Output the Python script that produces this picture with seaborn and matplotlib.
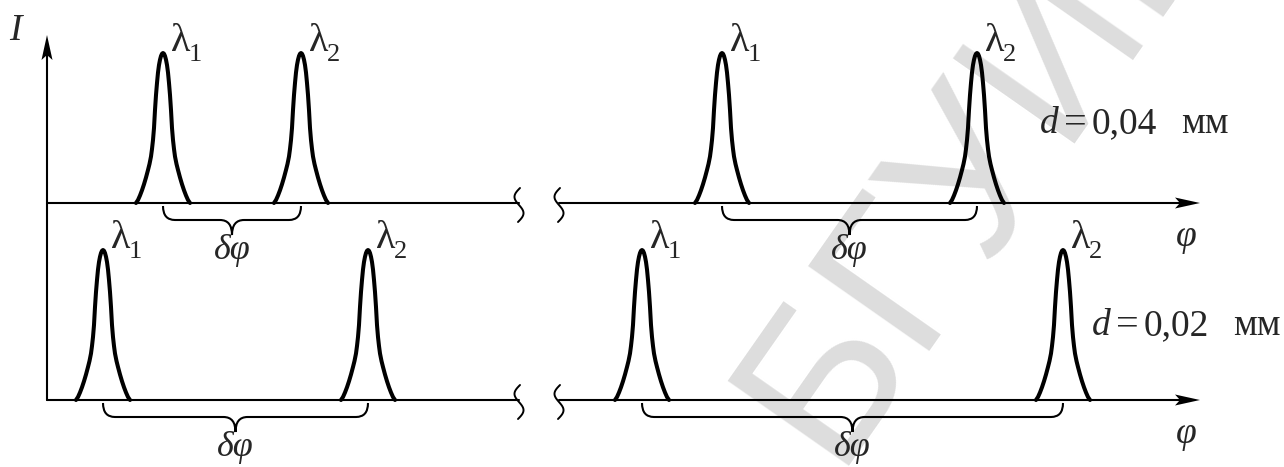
import numpy as np
import pandas as pd
import matplotlib.pyplot as plt
import seaborn as sns
from matplotlib.path import Path
from matplotlib.patches import PathPatch, Polygon

sns.set_theme(style='white')
plt.rcParams['font.family'] = ['Liberation Serif', 'DejaVu Serif']

# slit widths and peak positions along phi (drawing units, left window | right window after the break)
slit_labels = ['0,04', '0,02']
peaks_d004 = [163, 301, 722, 977]
peaks_d002 = [103, 368, 642, 1063]
peak_subscripts = ['1', '2', '1', '2']

# half profile of one spectral line (offset from centre, relative intensity)
profile_offset = [0, 1, 2, 3, 4, 5, 6, 7, 8, 9, 10, 11, 12, 13.5, 15, 17, 19, 21, 23, 25, 27]
profile_intensity = [1.0, 0.995, 0.98, 0.955, 0.92, 0.87, 0.80, 0.72, 0.62, 0.50, 0.42, 0.36,
                     0.31, 0.26, 0.22, 0.17, 0.125, 0.085, 0.05, 0.02, 0.0]

# layout (pixels)
W, H = 1284, 467
baselines = [203, 400]
peak_px = 150
axis_x = 47
axis_end = 1200
break_left, break_right = 519, 559

full_dx = [-v for v in profile_offset[::-1]] + profile_offset[1:]
full_I = profile_intensity[::-1] + profile_intensity[1:]

rows = []
for d, base, peaks in zip(slit_labels, baselines, [peaks_d004, peaks_d002]):
    for k, p in enumerate(peaks):
        for dx, inten in zip(full_dx, full_I):
            rows.append({'d': d, 'peak': f'{d}-{k}', 'x': p + dx, 'y': base - inten * peak_px})
df = pd.DataFrame(rows)

fig = plt.figure(figsize=(W / 100, H / 100), dpi=100)
ax = fig.add_axes([0, 0, 1, 1])
ax.set_xlim(0, W)
ax.set_ylim(H, 0)
ax.axis('off')

# watermark
ax.text(985, 150, 'БГУИР', rotation=55, size=155, color='#dddddd',
        ha='center', va='center', zorder=0, family=['Liberation Sans', 'DejaVu Sans'])

sns.lineplot(data=df, x='x', y='y', units='peak', estimator=None, sort=False,
             color='black', lw=2.9, ax=ax, legend=False)
for ln in ax.lines:
    ln.set_solid_capstyle('round')
    ln.set_solid_joinstyle('round')

axis_lw = 1.5


def arrow_right(tx, ty, L=25, w=5.5, n=5):
    ax.add_patch(Polygon([(tx, ty), (tx - L, ty - w), (tx - L + n, ty), (tx - L, ty + w)],
                         closed=True, color='black', lw=0))


def arrow_up(tx, ty, L=25, w=5.5, n=5):
    ax.add_patch(Polygon([(tx, ty), (tx - w, ty + L), (tx, ty + L - n), (tx + w, ty + L)],
                         closed=True, color='black', lw=0))


def squiggle(c, base):
    t = np.linspace(0, 1, 60)
    ys = base - 15 + 34 * t
    xs = c - 5 * np.sin(2 * np.pi * t) + 2 * (0.5 - t)
    ax.plot(xs, ys, color='black', lw=1.4)


def brace(x1, x2, y0, h1=14, h2=29, r=12):
    xm = (x1 + x2) / 2
    verts = [(x1, y0), (x1, y0 + h1), (x1 + r, y0 + h1),
             (xm - r, y0 + h1),
             (xm, y0 + h1), (xm, y0 + h2),
             (xm, y0 + h1), (xm + r, y0 + h1),
             (x2 - r, y0 + h1),
             (x2, y0 + h1), (x2, y0)]
    codes = [Path.MOVETO, Path.CURVE3, Path.CURVE3, Path.LINETO,
             Path.CURVE3, Path.CURVE3, Path.CURVE3, Path.CURVE3,
             Path.LINETO, Path.CURVE3, Path.CURVE3]
    ax.add_patch(PathPatch(Path(verts, codes), fill=False, lw=1.5, color='black'))


# intensity axis
ax.plot([axis_x, axis_x], [baselines[1], 45], color='black', lw=axis_lw)
arrow_up(axis_x, 35)
ax.text(15, 31, 'I', style='italic', size=27, ha='center', va='center')

for d, base, peaks in zip(slit_labels, baselines, [peaks_d004, peaks_d002]):
    ax.plot([axis_x, break_left], [base, base], color='black', lw=axis_lw)
    ax.plot([break_right, axis_end - 15], [base, base], color='black', lw=axis_lw)
    arrow_right(axis_end, base)
    squiggle(break_left, base)
    squiggle(break_right, base)
    ax.text(axis_end - 14, base + 34, 'φ', style='italic', size=27, ha='center', va='center')

    top = base - peak_px
    for p, sub in zip(peaks, peak_subscripts):
        ax.text(p + 8, top - 2, 'λ', size=29, ha='left', va='baseline')
        ax.text(p + 26, top + 8, sub, size=19, ha='left', va='baseline')

    for x1, x2 in [(peaks[0], peaks[1]), (peaks[2], peaks[3])]:
        brace(x1, x2, base + 3)
        ax.text((x1 + x2) / 2, base + 56, 'δφ', style='italic', size=26,
                ha='center', va='baseline')

for d, x0, y0 in zip(slit_labels, [1040, 1092], [133, 335]):
    ax.text(x0, y0, 'd', style='italic', size=27, ha='left', va='baseline')
    ax.text(x0 + 24, y0, '=', size=29, ha='left', va='baseline')
    ax.text(x0 + 52, y0, d, size=27, ha='left', va='baseline')
    ax.text(x0 + 141, y0, 'мм', size=27, ha='left', va='baseline')

fig.savefig('out.png', dpi=100)
